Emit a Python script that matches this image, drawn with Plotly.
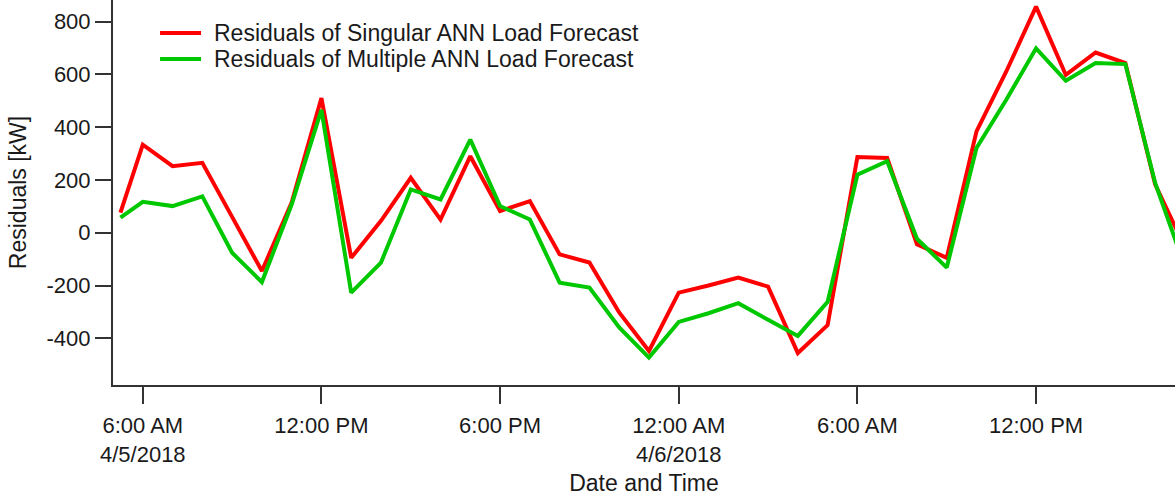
import plotly.graph_objects as go
import pandas as pd

# Hourly timestamps (first reading at 5:15 AM on 4/5/2018)
times = [pd.Timestamp("2018-04-05 05:15")] + list(
    pd.date_range("2018-04-05 06:00", "2018-04-06 17:00", freq="h"))

singular = [76, 334, 252, 265, 60, -145, 114, 510, -95, 45,
            208, 50, 290, 82, 120, -82, -113, -302, -448, -227,
            -200, -170, -204, -456, -350, 287, 283, -44, -95, 384,
            611, 857, 598, 683, 643, 183, -55]

multiple = [57, 117, 101, 138, -76, -187, 107, 466, -227, -113,
            164, 126, 353, 101, 50, -189, -208, -359, -473, -338,
            -305, -267, -330, -391, -262, 220, 271, -23, -132, 321,
            504, 699, 576, 643, 639, 189, -130]

series_names = ["Residuals of Singular ANN Load Forecast",
                "Residuals of Multiple ANN Load Forecast"]
series_colors = ["#ff0000", "#00c800"]

x_tick_vals = ["2018-04-05 06:00", "2018-04-05 12:00", "2018-04-05 18:00",
               "2018-04-06 00:00", "2018-04-06 06:00", "2018-04-06 12:00"]
x_tick_text = ["6:00 AM<br>4/5/2018", "12:00 PM", "6:00 PM",
               "12:00 AM<br>4/6/2018", "6:00 AM", "12:00 PM"]

y_tick_vals = [-400, -200, 0, 200, 400, 600, 800]
y_tick_text = ["-400", "-200", "0", "200", "400", "600", "800"]

FONT = "Liberation Sans, Arial, sans-serif"
TEXT_COLOR = "#1a1a1a"
AXIS_COLOR = "#333333"

fig = go.Figure()
for ys, name, color in zip([singular, multiple], series_names, series_colors):
    fig.add_trace(go.Scatter(x=times, y=ys, mode="lines", name=name,
                             line=dict(color=color, width=4)))

# Compact legend drawn in the upper-left corner of the plot area
legend_rows_y = [0.9143, 0.8468]
for row_y, name, color in zip(legend_rows_y, series_names, series_colors):
    fig.add_shape(type="line", xref="paper", yref="paper",
                  x0=0.0443, x1=0.0829, y0=row_y, y1=row_y,
                  line=dict(color=color, width=4))
    fig.add_annotation(xref="paper", yref="paper", x=0.0932, y=row_y,
                       xanchor="left", yanchor="middle", showarrow=False,
                       text=name, font=dict(size=23, color=TEXT_COLOR))

fig.update_layout(
    width=1175, height=497,
    margin=dict(l=113, r=0, t=0, b=112),
    paper_bgcolor="white", plot_bgcolor="white",
    font=dict(family=FONT, size=22, color=TEXT_COLOR),
    showlegend=False,
)

fig.update_xaxes(
    range=["2018-04-05 05:00", "2018-04-06 16:40"],
    tickvals=x_tick_vals, ticktext=x_tick_text,
    tickfont=dict(size=22), ticklabelstandoff=3,
    showline=True, linecolor=AXIS_COLOR, linewidth=2,
    ticks="outside", ticklen=17, tickwidth=2, tickcolor=AXIS_COLOR,
    showgrid=False, zeroline=False,
    title=dict(text="Date and Time", standoff=9, font=dict(size=23)),
)
fig.update_yaxes(
    range=[-577, 882],
    tickvals=y_tick_vals, ticktext=y_tick_text,
    tickfont=dict(size=22),
    showline=True, linecolor=AXIS_COLOR, linewidth=2,
    ticks="outside", ticklen=16, tickwidth=2, tickcolor=AXIS_COLOR,
    showgrid=False, zeroline=False,
    title=dict(text="Residuals [kW]", standoff=14, font=dict(size=23)),
)

fig.write_html("out.html")
